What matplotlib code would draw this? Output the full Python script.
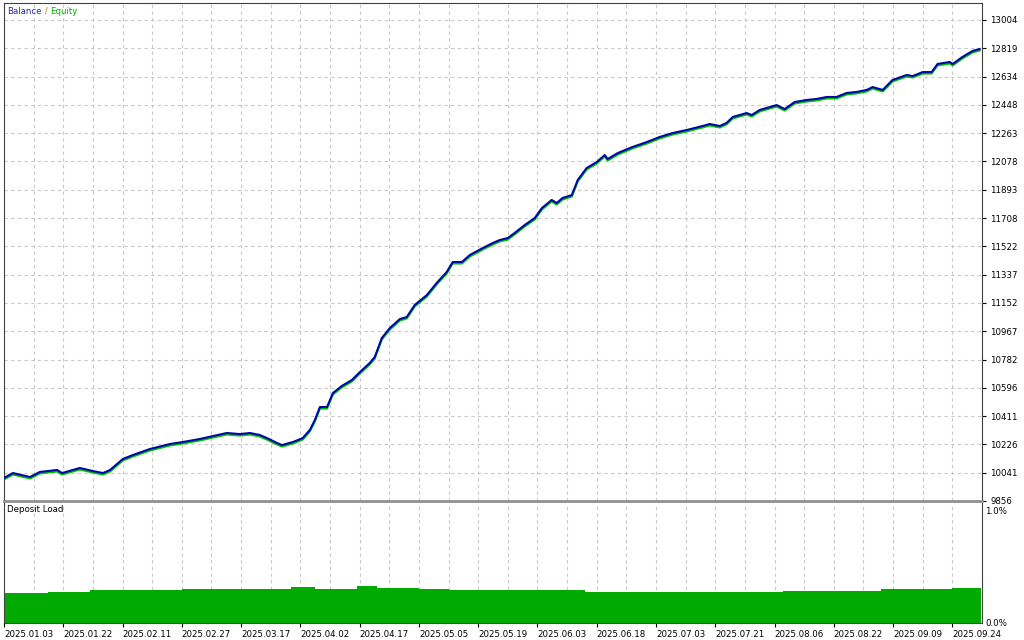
import matplotlib
matplotlib.use('Agg')
import matplotlib.pyplot as plt
import matplotlib.transforms as mtransforms
import numpy as np

# posicion en el eje (10 unidades = una linea de rejilla) y balance
pos_balance = [0, 3.0, 8.8, 12.1, 17.9, 19.6, 25.6, 30.0, 33.4, 35.8, 40.1, 43.5, 49.2, 56.0,
               60.4, 66.1, 70.5, 75.2, 79.6, 83.0, 86.3, 88.7, 92.1, 93.8, 97.5, 100.8, 103.2,
               104.9, 106.6, 109.0, 111.0, 114.0, 117.4, 120.1, 123.4, 125.1, 127.5, 130.2,
               133.6, 135.9, 138.6, 142.7, 146.0, 149.4, 151.4, 154.5, 157.2, 161.6, 164.9,
               167.3, 170.0, 172.3, 175.7, 179.1, 181.5, 184.8, 186.5, 188.5, 191.6, 193.6,
               196.6, 200.0, 202.7, 203.7, 207.1, 212.1, 216.9, 221.2, 225.6, 230.4, 235.7,
               238.1, 241.5, 243.8, 245.9, 250.6, 252.3, 255.0, 257.3, 260.7, 263.4, 266.8,
               270.8, 274.2, 277.6, 280.9, 284.3, 287.7, 291.1, 293.1, 296.5, 299.8, 304.6,
               306.6, 310.0, 313.0, 315.0, 319.1, 320.1, 323.4, 326.8, 329.2]
balance = [10007, 10039, 10013, 10046, 10059, 10039, 10072, 10052, 10039, 10059, 10131, 10157,
           10196, 10229, 10242, 10262, 10281, 10301, 10294, 10301, 10288, 10268, 10236, 10222,
           10242, 10268, 10321, 10386, 10471, 10471, 10563, 10609, 10648, 10700, 10759, 10798,
           10923, 10988, 11047, 11060, 11139, 11204, 11283, 11355, 11420, 11420, 11466, 11512,
           11544, 11564, 11577, 11610, 11662, 11708, 11773, 11826, 11806, 11839, 11858, 11957,
           12035, 12074, 12120, 12094, 12133, 12173, 12205, 12238, 12264, 12284, 12310, 12323,
           12310, 12330, 12369, 12395, 12382, 12415, 12428, 12447, 12421, 12467, 12480, 12487,
           12500, 12500, 12526, 12533, 12546, 12565, 12546, 12611, 12644, 12637, 12663, 12663,
           12716, 12729, 12716, 12762, 12801, 12814]

# carga del deposito (%)
pos_carga = [0, 15, 29, 60, 83, 97, 105, 119, 126, 140, 150, 164, 196, 263, 296, 320, 329.5]
carga = [0.253, 0.262, 0.275, 0.28, 0.287, 0.297, 0.28, 0.312, 0.29, 0.285, 0.275, 0.275,
         0.262, 0.268, 0.28, 0.288, 0.288]

fechas = ['2025.01.03', '2025.01.22', '2025.02.11', '2025.02.27', '2025.03.17', '2025.04.02',
          '2025.04.17', '2025.05.05', '2025.05.19', '2025.06.03', '2025.06.18', '2025.07.03',
          '2025.07.21', '2025.08.06', '2025.08.22', '2025.09.09', '2025.09.24']
niveles = [9856, 10041, 10226, 10411, 10596, 10782, 10967, 11152, 11337, 11522, 11708, 11893,
           12078, 12263, 12448, 12634, 12819, 13004]

W, H = 1024, 640
fig = plt.figure(figsize=(W / 100, H / 100), dpi=100)
ax = fig.add_axes([4 / W, (H - 501) / H, 978 / W, 498 / H])
ax2 = fig.add_axes([4 / W, (H - 623) / H, 978 / W, 120 / H])

rejilla = dict(color='#c8c8c8', linestyle=(0, (3, 3)), linewidth=0.8)
xmax = 330
for a in (ax, ax2):
    a.set_xlim(0, xmax)
    for xv in np.arange(10, xmax, 10):
        a.axvline(xv, zorder=0, **rejilla)
    for s in a.spines.values():
        s.set_color('#404040')
        s.set_linewidth(0.8)

for yv in niveles[1:]:
    ax.axhline(yv, zorder=0, **rejilla)

# equity se dibuja un poco por debajo del balance
desplaz = mtransforms.offset_copy(ax.transData, fig=fig, x=0, y=-1.5, units='dots')
ax.plot(pos_balance, balance, color='#00c000', lw=1.5, transform=desplaz, zorder=2)
ax.plot(pos_balance, balance, color='#0008a8', lw=1.5, zorder=3)

ax.set_ylim(9856, 13115)
ax.yaxis.tick_right()
ax.set_yticks(niveles)
ax.set_yticklabels([str(n) for n in niveles])
ax.tick_params(axis='y', labelsize=6.2, length=3, pad=3, colors='#000000')
ax.set_xticks([])
ax.spines['bottom'].set_color('#909090')
ax.spines['bottom'].set_linewidth(2)

t = ax.text(3 / 978, 1 - 8 / 498, 'Balance', transform=ax.transAxes, fontsize=6.2,
            color='#2828a8', va='center')
for txt, col in [(' / ', '#b07800'), ('Equity', '#00b400')]:
    t = ax.annotate(txt, xycoords=t, xy=(1, 0), va='bottom', fontsize=6.2, color=col)

ax2.fill_between(pos_carga, carga, step='post', color='#00aa00', lw=0, zorder=2)
ax2.set_ylim(0, 1.0)
ax2.set_yticks([])
ax2.text(1.003, 0.965, '1.0%', transform=ax2.transAxes, fontsize=6.2, va='top', ha='left')
ax2.text(1.003, 0.0, '0.0%', transform=ax2.transAxes, fontsize=6.2, va='center', ha='left')
ax2.text(3 / 978, 1 - 7 / 120, 'Deposit Load', transform=ax2.transAxes, fontsize=6.2,
         color='#000000', va='center')
ax2.spines['top'].set_visible(False)

ax2.set_xticks(np.arange(0, 20 * len(fechas), 20))
ax2.set_xticklabels(fechas, fontsize=6.2, ha='left')
ax2.tick_params(axis='x', length=3, pad=2, colors='#000000')

fig.savefig('out.png', dpi=100, facecolor='white')
